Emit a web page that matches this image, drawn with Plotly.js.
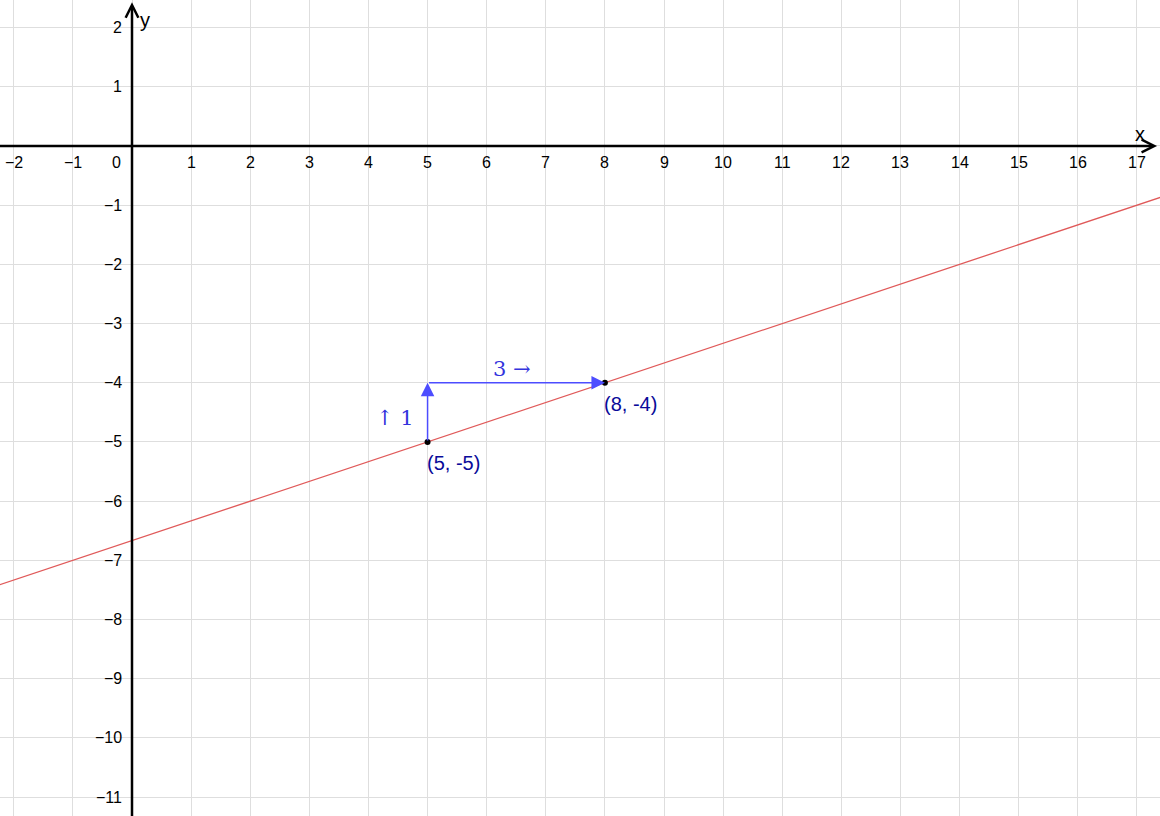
<!DOCTYPE html>
<html>
<head>
<meta charset="utf-8">
<script src="https://cdn.plot.ly/plotly-3.0.1.min.js"></script>
<style>html,body{margin:0;padding:0;background:#fff;}#chart{width:1160px;height:816px;}</style>
</head>
<body>
<div id="chart"></div>
<script>
// Data
const xTicks = [-2,-1,1,2,3,4,5,6,7,8,9,10,11,12,13,14,15,16,17];
const yTicks = [-11,-10,-9,-8,-7,-6,-5,-4,-3,-2,-1,1,2];
const lineX = [-3, 18];
const lineY = [-7.667, -0.667];
const pointX = [5, 8];
const pointY = [-5, -4];
const pointLabels = ["(5, -5)", "(8, -4)"];
const riseLabel = "↑ 1";
const runLabel = "3 →";
const xRange = [-2.233, 17.39];
const yRange = [-11.32, 2.466];

const axisFont = {family: "Liberation Sans, Arial, sans-serif", size: 16, color: "#000"};
const fmt = v => (v < 0 ? "\u2212" + Math.abs(v) : String(v));

const annotations = [];
// x tick labels
xTicks.forEach(v => annotations.push({x: v, y: 0, xref: "x", yref: "y", text: fmt(v), showarrow: false,
  xanchor: "center", yanchor: "top", yshift: -6, font: axisFont}));
// y tick labels
yTicks.forEach(v => annotations.push({x: 0, y: v, xref: "x", yref: "y", text: fmt(v), showarrow: false,
  xanchor: "right", yanchor: "middle", xshift: -8, font: axisFont}));
// origin label
annotations.push({x: 0, y: 0, xref: "x", yref: "y", text: "0", showarrow: false,
  xanchor: "right", yanchor: "top", xshift: -9, yshift: -6, font: axisFont});
// axes with arrowheads
annotations.push({x: 17.34, y: 0, ax: -2.5, ay: 0, xref: "x", yref: "y", axref: "x", ayref: "y",
  text: "", showarrow: true, arrowhead: 5, arrowsize: 1, arrowwidth: 2.5, arrowcolor: "#000"});
annotations.push({x: 0, y: 2.43, ax: 0, ay: -11.6, xref: "x", yref: "y", axref: "x", ayref: "y",
  text: "", showarrow: true, arrowhead: 5, arrowsize: 1, arrowwidth: 2.5, arrowcolor: "#000"});
// axis names
annotations.push({x: 17.06, y: 0.2, xref: "x", yref: "y", text: "x", showarrow: false,
  font: {family: "Liberation Sans, Arial, sans-serif", size: 20, color: "#000"}});
annotations.push({x: 0.22, y: 2.13, xref: "x", yref: "y", text: "y", showarrow: false,
  font: {family: "Liberation Sans, Arial, sans-serif", size: 20, color: "#000"}});
// blue rise and run arrows
const blue = "#4d4dff";
annotations.push({x: pointX[0], y: pointY[1], ax: pointX[0], ay: pointY[0], xref: "x", yref: "y", axref: "x", ayref: "y",
  text: "", showarrow: true, arrowhead: 2, arrowsize: 1.8, arrowwidth: 1.5, arrowcolor: blue});
annotations.push({x: pointX[1], y: pointY[1], ax: pointX[0], ay: pointY[1], xref: "x", yref: "y", axref: "x", ayref: "y",
  text: "", showarrow: true, arrowhead: 2, arrowsize: 1.8, arrowwidth: 1.5, arrowcolor: blue});
annotations.push({x: 4.45, y: -4.6, xref: "x", yref: "y", text: riseLabel, showarrow: false,
  font: {family: "DejaVu Serif, Liberation Serif, serif", size: 21, color: "#3333dd"}});
annotations.push({x: 6.43, y: -3.76, xref: "x", yref: "y", text: runLabel, showarrow: false,
  font: {family: "DejaVu Serif, Liberation Serif, serif", size: 21, color: "#3333dd"}});
// point labels
pointX.forEach((px, i) => annotations.push({x: px, y: pointY[i], xref: "x", yref: "y", text: pointLabels[i],
  showarrow: false, xanchor: "left", yanchor: "top", xshift: -3, yshift: -8,
  font: {family: "Liberation Sans, Arial, sans-serif", size: 20, color: "#0a0a99"}}));

const traces = [
  {x: lineX, y: lineY, mode: "lines", line: {color: "#e05a5a", width: 1.3}, hoverinfo: "skip"},
  {x: pointX, y: pointY, mode: "markers", marker: {color: "#000", size: 6}, hoverinfo: "skip"}
];

const layout = {
  width: 1160, height: 816,
  margin: {l: 0, r: 0, t: 0, b: 0},
  paper_bgcolor: "#fff", plot_bgcolor: "#fff",
  showlegend: false,
  xaxis: {range: xRange, dtick: 1, tick0: 0, showgrid: true, gridcolor: "#dedede", gridwidth: 1,
    zeroline: false, showticklabels: false, ticks: "", showline: false, fixedrange: true},
  yaxis: {range: yRange, dtick: 1, tick0: 0, showgrid: true, gridcolor: "#dedede", gridwidth: 1,
    zeroline: false, showticklabels: false, ticks: "", showline: false, fixedrange: true},
  annotations: annotations
};

Plotly.newPlot("chart", traces, layout, {displayModeBar: false, staticPlot: true});
</script>
</body>
</html>
